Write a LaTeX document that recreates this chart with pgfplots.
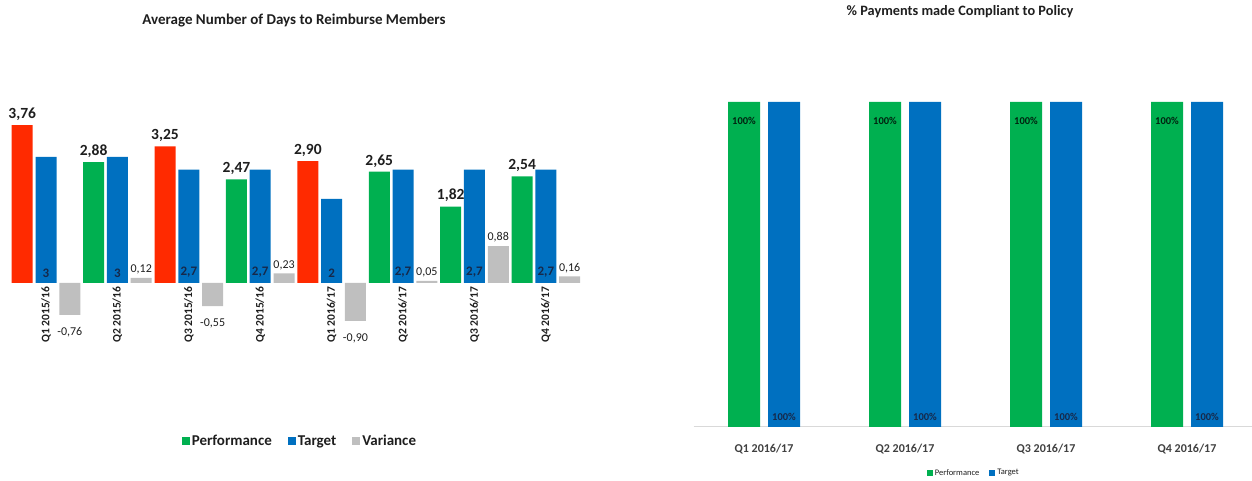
\documentclass[border=0pt]{standalone}
\usepackage{pgfplots}
\pgfplotsset{compat=1.18}
\usepackage{pgfplotstable}
\usepackage{fontspec}
\setmainfont{Carlito}
\definecolor{cRed}{HTML}{FF2A00}
\definecolor{cGreen}{HTML}{00B050}
\definecolor{cBlue}{HTML}{0070C0}
\definecolor{cGrey}{HTML}{BFBFBF}
\definecolor{cText}{HTML}{1E1E1E}
\definecolor{cNavy}{HTML}{16294A}
\definecolor{cAxis}{HTML}{D9D9D9}
\pgfplotsset{every axis title shift=0pt}

% left chart data (category index, value)
\pgfplotstableread{
x perf
0 3.76
2 3.25
4 2.90
}\perfred
\pgfplotstableread{
x perf
1 2.88
3 2.47
5 2.65
6 1.82
7 2.54
}\perfgreen
\pgfplotstableread{
x target
0 3
1 3
2 2.7
3 2.7
4 2
5 2.7
6 2.7
7 2.7
}\target
\pgfplotstableread{
x var
0 -0.76
1 0.12
2 -0.55
3 0.23
4 -0.90
5 0.05
6 0.88
7 0.16
}\variance
% right chart data
\pgfplotstableread{
x perf target
0 100 100
1 100 100
2 100 100
3 100 100
}\compliance

\begin{document}
\begin{tikzpicture}
\useasboundingbox (0pt,0pt) rectangle (1252pt,481pt);
% ---------------- left chart ----------------
\begin{axis}[
  at={(10.3pt,156pt)}, anchor=south west,
  scale only axis, width=571.3pt, height=210pt,
  xmin=-0.5, xmax=7.5, ymin=-1, ymax=4,
  ybar, bar width=21pt,
  axis x line=middle, axis y line=none,
  x axis line style={draw=none,-},
  hide obscured x ticks=false,
  xtick={0,...,7},
  xticklabels={Q1 2015/16,Q2 2015/16,Q3 2015/16,Q4 2015/16,Q1 2016/17,Q2 2016/17,Q3 2016/17,Q4 2016/17},
  major tick length=0pt,
  xticklabel style={rotate=90, anchor=east, font=\fontsize{11.5}{13}\selectfont\bfseries, text=cText},
  clip=false,
  title={Average Number of Days to Reimburse Members},
  title style={at={(0.4966,1.452)}, anchor=center, font=\fontsize{15}{18}\selectfont\bfseries, text=cText},
  legend columns=3,
  legend style={at={(0.507,-0.552)}, anchor=center, draw=none, fill=none,
    font=\fontsize{15}{18}\selectfont\bfseries, text=cText,
    /tikz/every even column/.append style={column sep=14pt}},
  legend image code/.code={\fill[#1,draw=none] (0pt,-4pt) rectangle (8pt,4pt);},
  /pgf/number format/assume math mode=true,
  /pgf/number format/use comma,
]
\addplot[fill=cRed, draw=none, bar shift=-23.8pt, forget plot,
  nodes near coords, nodes near coords style={font=\fontsize{15.5}{18}\selectfont\bfseries, text=cText, yshift=1pt},
  /pgf/number format/.cd, fixed, fixed zerofill, precision=2]
  table[x=x, y=perf] {\perfred};
\addplot[fill=cGreen, draw=none, bar shift=-23.8pt,
  nodes near coords, nodes near coords style={font=\fontsize{15.5}{18}\selectfont\bfseries, text=cText, yshift=1pt},
  /pgf/number format/.cd, fixed, fixed zerofill, precision=2]
  table[x=x, y=perf] {\perfgreen};
\addlegendentry{Performance}
\addplot[fill=cBlue, draw=none, bar shift=0pt,
  visualization depends on={y \as \rawy},
  nodes near coords, nodes near coords align={anchor=south},
  nodes near coords style={font=\fontsize{13}{15}\selectfont\bfseries, text=cNavy, shift={(axis direction cs:0,-\rawy)}, yshift=2pt},
  /pgf/number format/.cd, fixed, precision=1]
  table[x=x, y=target] {\target};
\addlegendentry{Target}
\addplot[fill=cGrey, draw=none, bar shift=23.8pt,
  visualization depends on={y \as \rawv},
  nodes near coords, nodes near coords style={font=\fontsize{12}{14}\selectfont, text=cText, yshift={-9*(\rawv<0)}},
  /pgf/number format/.cd, fixed, fixed zerofill, precision=2]
  table[x=x, y=var] {\variance};
\addlegendentry{Variance}
\end{axis}
% ---------------- right chart ----------------
\begin{axis}[
  at={(693.5pt,54pt)}, anchor=south west,
  scale only axis, width=564pt, height=325pt,
  xmin=-0.5, xmax=3.5, ymin=0, ymax=100,
  ybar, bar width=32pt,
  axis x line*=bottom, axis y line=none,
  x axis line style={draw=cAxis, line width=1pt, -},
  xtick={0,...,3},
  xticklabels={Q1 2016/17,Q2 2016/17,Q3 2016/17,Q4 2016/17},
  major tick length=0pt,
  xticklabel style={font=\fontsize{12}{14}\selectfont\bfseries, text=cText!85, yshift=-14pt},
  clip=false,
  title={\% Payments made Compliant to Policy},
  title style={at={(0.4725,1.277)}, anchor=center, font=\fontsize{14.3}{17}\selectfont\bfseries, text=cText},
  legend columns=2,
  legend style={at={(0.497,-0.1415)}, anchor=center, draw=none, fill=none,
    font=\fontsize{8.5}{10}\selectfont, text=cText,
    /tikz/every even column/.append style={column sep=8pt}},
  legend image code/.code={\fill[#1,draw=none] (0pt,-3pt) rectangle (6pt,3pt);},
  /pgf/number format/assume math mode=true,
]
\addplot[fill=cGreen, draw=none, bar shift=-20pt,
  nodes near coords={\pgfmathprintnumber{\pgfplotspointmeta}\%},
  nodes near coords align={anchor=north},
  nodes near coords style={font=\fontsize{10.5}{12}\selectfont\bfseries, text=black!80!cGreen, yshift=-12pt}]
  table[x=x, y=perf] {\compliance};
\addlegendentry{Performance}
\addplot[fill=cBlue, draw=none, bar shift=20pt,
  visualization depends on={y \as \rawy},
  nodes near coords={\pgfmathprintnumber{\pgfplotspointmeta}\%},
  nodes near coords align={anchor=south},
  nodes near coords style={font=\fontsize{10.5}{12}\selectfont\bfseries, text=cNavy, shift={(axis direction cs:0,-\rawy)}, yshift=3pt}]
  table[x=x, y=target] {\compliance};
\addlegendentry{Target}
\end{axis}
\end{tikzpicture}
\end{document}
